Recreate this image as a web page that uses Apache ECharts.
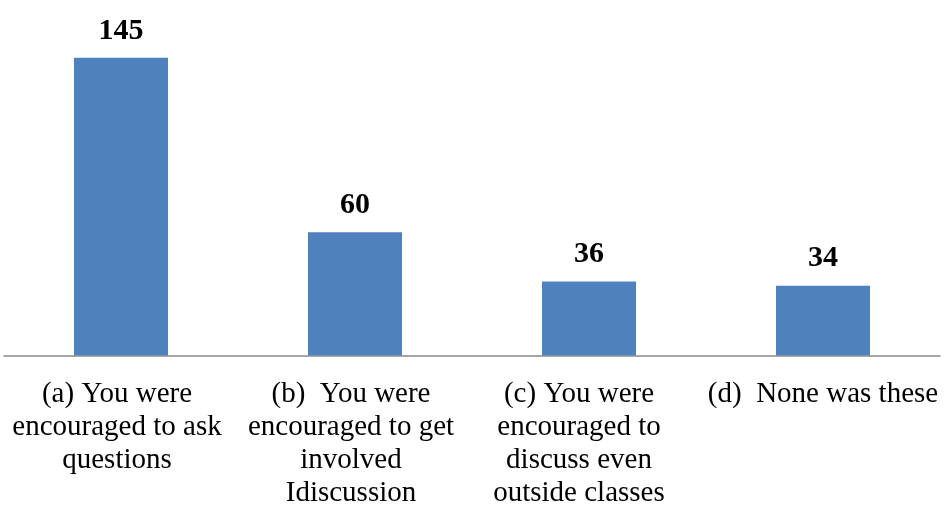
<!DOCTYPE html>
<html>
<head>
<meta charset="utf-8">
<script src="https://cdn.jsdelivr.net/npm/echarts@6/dist/echarts.min.js"></script>
<style>
html,body{margin:0;padding:0;background:#fff;}
#chart{width:946px;height:505px;}
</style>
</head>
<body>
<div id="chart"></div>
<script>
const categories = [
  "(a) You were\nencouraged to ask\nquestions",
  "(b)  You were\nencouraged to get\ninvolved\nIdiscussion",
  "(c) You were\nencouraged to\ndiscuss even\noutside classes",
  "(d)  None was these"
];
const values = [145, 60, 36, 34];

// label horizontal nudges (right padding) to mimic the original's text placement
const labelPadRight = [8, 8, 20, 0];

const chart = echarts.init(document.getElementById('chart'));
chart.setOption({
  backgroundColor: '#ffffff',
  animation: false,
  grid: {left: 4, right: 6, top: 27, bottom: 149.5, containLabel: false, outerBoundsMode: 'none'},
  xAxis: {
    type: 'category',
    data: categories.map((c, i) => ({value: c, textStyle: {padding: [0, labelPadRight[i], 0, 0]}})),
    axisLine: {show: true, lineStyle: {color: '#898989', width: 1.5}},
    axisTick: {show: false},
    axisLabel: {
      interval: 0,
      hideOverlap: false,
      margin: 22,
      fontFamily: '"Liberation Serif", "Times New Roman", serif',
      fontSize: 29,
      lineHeight: 33,
      color: '#000000',
      align: 'center'
    }
  },
  yAxis: {
    type: 'value',
    min: 0,
    max: 160,
    show: false,
    splitLine: {show: false}
  },
  series: [{
    type: 'bar',
    data: values,
    barWidth: 94,
    itemStyle: {color: '#4f81bd'},
    label: {
      show: true,
      position: 'top',
      distance: 12,
      fontFamily: '"Liberation Serif", "Times New Roman", serif',
      fontWeight: 'bold',
      fontSize: 30,
      color: '#000000'
    }
  }]
});
</script>
</body>
</html>
